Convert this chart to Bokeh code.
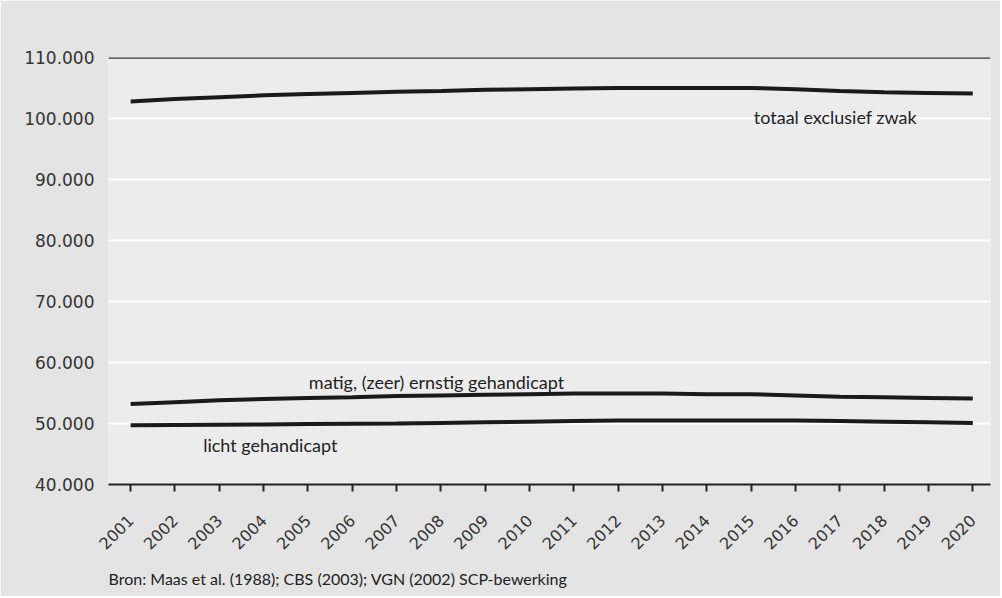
from bokeh.plotting import figure
from bokeh.models import FixedTicker, Span, Label, Title
from bokeh.embed import file_html
from bokeh.resources import INLINE

years = list(range(2001, 2021))
totaal = [102800, 103200, 103500, 103800, 104000, 104200, 104400, 104500, 104700, 104800,
          104900, 105000, 105000, 105000, 105000, 104800, 104500, 104300, 104200, 104100]
matig = [53200, 53500, 53800, 54000, 54200, 54300, 54500, 54600, 54700, 54800,
         54900, 54900, 54900, 54800, 54800, 54600, 54400, 54300, 54200, 54100]
licht = [49700, 49750, 49800, 49850, 49900, 49950, 50000, 50100, 50200, 50300,
         50400, 50500, 50500, 50500, 50500, 50500, 50400, 50300, 50200, 50100]
y_ticks = [40000, 50000, 60000, 70000, 80000, 90000, 100000, 110000]
y_labels = ["40.000", "50.000", "60.000", "70.000", "80.000", "90.000", "100.000", "110.000"]
series_labels = ["totaal exclusief zwak", "matig, (zeer) ernstig gehandicapt", "licht gehandicapt"]
source_text = "Bron: Maas et al. (1988); CBS (2003); VGN (2002) SCP-bewerking"

p = figure(width=1000, height=596, output_backend="svg", toolbar_location=None,
           x_range=(2000.5, 2020.4), y_range=(40000, 110000),
           min_border_left=108, min_border_right=10, min_border_top=57, min_border_bottom=111)
p.border_fill_color = "#e4e4e4"
p.background_fill_color = "#ececec"
p.outline_line_color = None

# grid
p.xgrid.grid_line_color = None
p.ygrid.ticker = FixedTicker(ticks=y_ticks)
p.ygrid.grid_line_color = "white"
p.ygrid.grid_line_width = 2

# y axis
p.yaxis.ticker = FixedTicker(ticks=y_ticks)
p.yaxis.major_label_overrides = {t: l for t, l in zip(y_ticks, y_labels)}
p.yaxis.axis_line_color = None
p.yaxis.major_tick_line_color = None
p.yaxis.minor_tick_line_color = None
p.yaxis.major_label_text_font = "DejaVu Sans"
p.yaxis.major_label_text_font_size = "17px"
p.yaxis.major_label_text_color = "#333333"
p.yaxis.major_label_standoff = 8

# x axis
p.xaxis.ticker = FixedTicker(ticks=years)
p.xaxis.major_label_overrides = {y: str(y) for y in years}
p.xaxis.axis_line_color = "#222222"
p.xaxis.axis_line_width = 2
p.xaxis.major_tick_line_color = "#222222"
p.xaxis.major_tick_line_width = 2
p.xaxis.major_tick_out = 7
p.xaxis.major_tick_in = 0
p.xaxis.minor_tick_line_color = None
p.xaxis.major_label_orientation = 0.785
p.xaxis.major_label_text_font = "DejaVu Sans"
p.xaxis.major_label_text_font_size = "16px"
p.xaxis.major_label_text_color = "#333333"
p.xaxis.major_label_standoff = 26

# top dark line at 110.000
p.add_layout(Span(location=110000, dimension="width", line_color="#333333", line_width=2.5))

for ys in (totaal, matig, licht):
    p.line(years, ys, line_color="#1a1a1a", line_width=4)

label_pos = [(2016.9, 100200), (2007.9, 56800), (2004.15, 46550)]
for txt, (lx, ly) in zip(series_labels, label_pos):
    p.add_layout(Label(x=lx, y=ly, text=txt, text_align="center", text_baseline="middle",
                       text_font="Lato", text_font_size="18px", text_color="#222222"))

p.add_layout(Title(text=source_text, align="left", text_font="Lato", text_font_size="16px",
                   text_font_style="normal", text_color="#222222", standoff=18), "below")

open("out.html", "w").write(file_html(p, INLINE))
